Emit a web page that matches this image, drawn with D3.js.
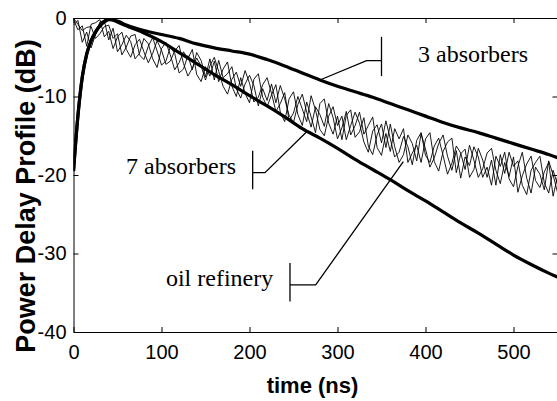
<!DOCTYPE html>
<html>
<head>
<meta charset="utf-8">
<script src="https://cdn.jsdelivr.net/npm/d3@7"></script>
<style>
  body { margin: 0; background: #fff; }
  svg { display: block; }
</style>
</head>
<body>
<svg id="chart" width="557" height="401"></svg>
<script>
// Axis ticks
const timeTicks = [0, 100, 200, 300, 400, 500];
const dbTicks = [0, -10, -20, -30, -40];

// Smooth profiles (time in ns, power in dB)
const smoothTime = [0, 5, 10, 15, 20, 25, 30, 35, 40, 50, 60, 80, 100, 120, 140, 160, 180, 200,
  220, 240, 260, 280, 300, 320, 340, 360, 380, 400, 420, 440, 460, 480, 500, 520, 540, 550];
const threeAbsorbers = [-19.5, -12.5, -7.5, -4.6, -2.9, -1.8, -1.0, -0.5, -0.2, -0.4, -0.9, -1.6,
  -2.1, -2.6, -3.3, -3.8, -4.2, -4.6, -5.3, -6.1, -7.0, -7.9, -8.7, -9.4, -10.1, -10.9, -11.7,
  -12.5, -13.3, -14.0, -14.6, -15.3, -16.0, -16.7, -17.4, -17.8];
const oilRefinery = [-19.5, -12.5, -7.5, -4.6, -2.9, -1.8, -1.0, -0.4, -0.1, -0.5, -1.0, -1.9,
  -3.0, -4.4, -5.8, -7.2, -8.5, -9.9, -11.2, -12.6, -14.1, -15.3, -16.6, -18.0, -19.3, -20.6,
  -22.0, -23.3, -24.7, -26.1, -27.4, -28.8, -30.2, -31.4, -32.5, -33.0];

// Measured profiles with 7 absorbers, sampled every 5 ns from 0 to 550 ns
const sevenRunA = [-0.2, -1.5, -1.0, -3.6, -0.8, -0.6, -0.2, -2.4, -1.7, -3.9, -2.4, -1.8, -4.0,
  -5.0, -3.4, -2.7, -4.3, -5.7, -4.5, -2.9, -4.1, -5.9, -5.5, -4.2, -3.5, -5.8, -7.4, -6.4, -5.1,
  -6.1, -7.9, -6.1, -5.0, -6.8, -8.7, -9.7, -7.8, -6.9, -8.7, -6.7, -8.3, -10.7, -10.1, -8.5,
  -7.6, -9.6, -11.9, -10.9, -9.5, -13.1, -12.1, -10.0, -11.6, -13.2, -9.9, -11.7, -14.2, -15.0,
  -12.5, -11.3, -13.7, -12.5, -15.5, -13.7, -12.0, -13.4, -15.8, -17.1, -14.4, -13.6, -15.9,
  -13.1, -15.4, -17.7, -17.1, -15.1, -16.4, -18.7, -15.6, -14.6, -17.5, -18.4, -16.3, -15.3,
  -17.5, -19.9, -18.5, -16.3, -17.2, -19.3, -16.2, -18.1, -20.3, -19.2, -17.2, -16.6, -19.4,
  -21.1, -18.4, -20.2, -17.7, -22.2, -20.1, -18.6, -17.6, -20.7, -21.6, -19.6, -18.4, -22.7, -20.2];
const sevenRunB = [-0.9, -0.3, -3.1, -1.8, -3.8, -2.1, -0.5, -0.3, -2.8, -1.3, -4.3, -3.4, -2.2,
  -3.0, -5.2, -4.5, -2.6, -3.3, -5.2, -6.3, -3.9, -3.1, -4.7, -6.6, -5.7, -4.3, -5.2, -4.0, -7.2,
  -8.1, -6.2, -7.4, -5.5, -8.1, -6.5, -5.6, -8.7, -10.0, -7.6, -9.6, -10.8, -7.8, -7.1, -10.1,
  -11.3, -9.8, -8.5, -12.0, -13.2, -10.3, -9.4, -12.3, -13.7, -10.7, -12.6, -14.6, -10.9, -10.3,
  -13.4, -14.8, -12.5, -15.5, -12.4, -11.7, -15.2, -14.5, -12.7, -16.3, -17.4, -14.9, -13.5,
  -16.5, -13.5, -16.4, -18.4, -17.4, -14.9, -16.0, -18.2, -14.7, -16.7, -19.0, -17.8, -16.0,
  -14.9, -17.6, -19.4, -16.9, -20.4, -17.7, -18.8, -16.4, -17.7, -20.3, -19.0, -21.3, -17.6,
  -18.9, -17.1, -20.5, -21.5, -18.9, -17.1, -20.4, -22.3, -19.0, -19.9, -21.9, -18.2, -20.0, -22.2];
const sevenRunC = [0.0, -0.8, -1.6, -1.2, -1.1, -2.6, -2.0, -1.1, -0.9, -2.6, -2.0, -4.7, -3.7,
  -2.3, -2.1, -4.7, -5.3, -3.6, -2.5, -4.2, -6.0, -5.5, -3.7, -4.5, -7.0, -6.5, -4.8, -6.6, -4.4,
  -5.4, -7.5, -5.2, -7.9, -5.4, -7.6, -7.1, -6.2, -9.0, -10.2, -8.4, -7.3, -8.6, -11.2, -9.0,
  -10.5, -8.4, -10.8, -8.6, -10.3, -12.4, -13.3, -11.0, -9.7, -12.0, -13.9, -11.3, -12.3, -13.8,
  -10.9, -12.7, -15.4, -14.0, -11.9, -14.9, -13.7, -12.0, -14.8, -13.7, -12.6, -16.5, -17.5,
  -14.7, -17.0, -14.1, -15.4, -14.1, -18.4, -17.2, -16.2, -18.4, -15.4, -14.6, -18.3, -19.5,
  -17.0, -15.8, -15.3, -19.7, -17.3, -16.7, -20.3, -19.3, -16.6, -18.1, -20.3, -18.1, -21.3,
  -17.4, -19.8, -17.1, -18.9, -18.2, -21.3, -22.5, -19.4, -18.4, -17.6, -21.0, -22.3, -19.4, -21.2];
const sampleTime = sevenRunA.map((_, i) => i * 5);

// Callout labels: text anchor, bracket bar, elbow and pointer tip in data units
const callouts = [
  { text: "3 absorbers", anchor: "start", tx: 391.5, ty: -5.6,
    barT: 350, barTop: -2.4, barBottom: -7.4, elbowT: 333, elbowDb: -5.44, tipT: 280, tipDb: -7.9 },
  { text: "7 absorbers", anchor: "end", tx: 184.7, ty: -19.9,
    barT: 203.6, barTop: -16.9, barBottom: -21.8, elbowT: 217.6, elbowDb: -19.7, tipT: 265, tipDb: -14.5 },
  { text: "oil refinery", anchor: "end", tx: 227, ty: -34.2,
    barT: 246, barTop: -31.2, barBottom: -36.1, elbowT: 275.2, elbowDb: -34.0, tipT: 374.8, tipDb: -18.3 }
];

const svg = d3.select("#chart");
const x = d3.scaleLinear().domain([0, 550]).range([73.5, 557.5]);
const y = d3.scaleLinear().domain([-40, 0]).range([332, 18]);

svg.append("clipPath").attr("id", "plot-clip")
  .append("rect").attr("x", 73.5).attr("y", 18).attr("width", 484).attr("height", 314);

const line = d3.line().x(d => x(d[0])).y(d => y(d[1]));
const smooth = d3.line().x(d => x(d[0])).y(d => y(d[1])).curve(d3.curveMonotoneX);

const curves = svg.append("g").attr("clip-path", "url(#plot-clip)");
[sevenRunA, sevenRunB, sevenRunC].forEach(run => {
  curves.append("path")
    .datum(sampleTime.map((t, i) => [t, run[i]]))
    .attr("d", line)
    .attr("fill", "none").attr("stroke", "#000").attr("stroke-width", 0.9)
    .attr("stroke-linejoin", "round");
});
[threeAbsorbers, oilRefinery].forEach(profile => {
  curves.append("path")
    .datum(smoothTime.map((t, i) => [t, profile[i]]))
    .attr("d", smooth)
    .attr("fill", "none").attr("stroke", "#000").attr("stroke-width", 3.2)
    .attr("stroke-linejoin", "round");
});

// Callouts
const cg = svg.append("g").attr("stroke", "#000").attr("stroke-width", 1.3);
callouts.forEach(c => {
  cg.append("line").attr("x1", x(c.barT)).attr("x2", x(c.barT))
    .attr("y1", y(c.barTop)).attr("y2", y(c.barBottom));
  cg.append("polyline").attr("fill", "none")
    .attr("points", [[x(c.barT), y(c.elbowDb)], [x(c.elbowT), y(c.elbowDb)], [x(c.tipT), y(c.tipDb)]].join(" "));
  svg.append("text").attr("x", x(c.tx)).attr("y", y(c.ty))
    .attr("text-anchor", c.anchor)
    .attr("font-family", "'Liberation Serif', 'Times New Roman', serif")
    .attr("font-size", 24).attr("fill", "#000").text(c.text);
});

// Axis box with inward ticks on all four sides
const tickLen = 5;
const plain = d => String(d);
const axes = svg.append("g");
axes.append("g").attr("transform", `translate(0,${y(-40)})`)
  .call(d3.axisBottom(x).tickValues(timeTicks).tickSizeInner(-tickLen).tickSizeOuter(0).tickPadding(13).tickFormat(plain));
axes.append("g").attr("transform", `translate(0,${y(0)})`)
  .call(d3.axisTop(x).tickValues(timeTicks).tickSizeInner(-tickLen).tickSizeOuter(0).tickFormat(""));
axes.append("g").attr("transform", `translate(${x(0)},0)`)
  .call(d3.axisLeft(y).tickValues(dbTicks).tickSizeInner(-tickLen).tickSizeOuter(0).tickPadding(7).tickFormat(plain));
axes.append("g").attr("transform", `translate(${x(550)},0)`)
  .call(d3.axisRight(y).tickValues(dbTicks).tickSizeInner(-tickLen).tickSizeOuter(0).tickFormat(""));
axes.selectAll("text").attr("fill", "#000")
  .style("font-family", "'Liberation Sans', Arial, sans-serif").style("font-size", "20px");
axes.selectAll("path.domain, line").attr("stroke", "#000").attr("stroke-width", 1);

// Axis titles
svg.append("text")
  .attr("x", (x(0) + x(550)) / 2 - 3).attr("y", 393)
  .attr("text-anchor", "middle")
  .attr("font-family", "'Liberation Sans', Arial, sans-serif")
  .attr("font-weight", "bold").attr("font-size", 22).attr("fill", "#000")
  .text("time (ns)");
svg.append("text")
  .attr("transform", "translate(35,196) rotate(-90)")
  .attr("text-anchor", "middle")
  .attr("font-family", "'Liberation Sans', Arial, sans-serif")
  .attr("font-weight", "bold").attr("font-size", 27).attr("fill", "#000")
  .text("Power Delay Profile (dB)");
</script>
</body>
</html>
